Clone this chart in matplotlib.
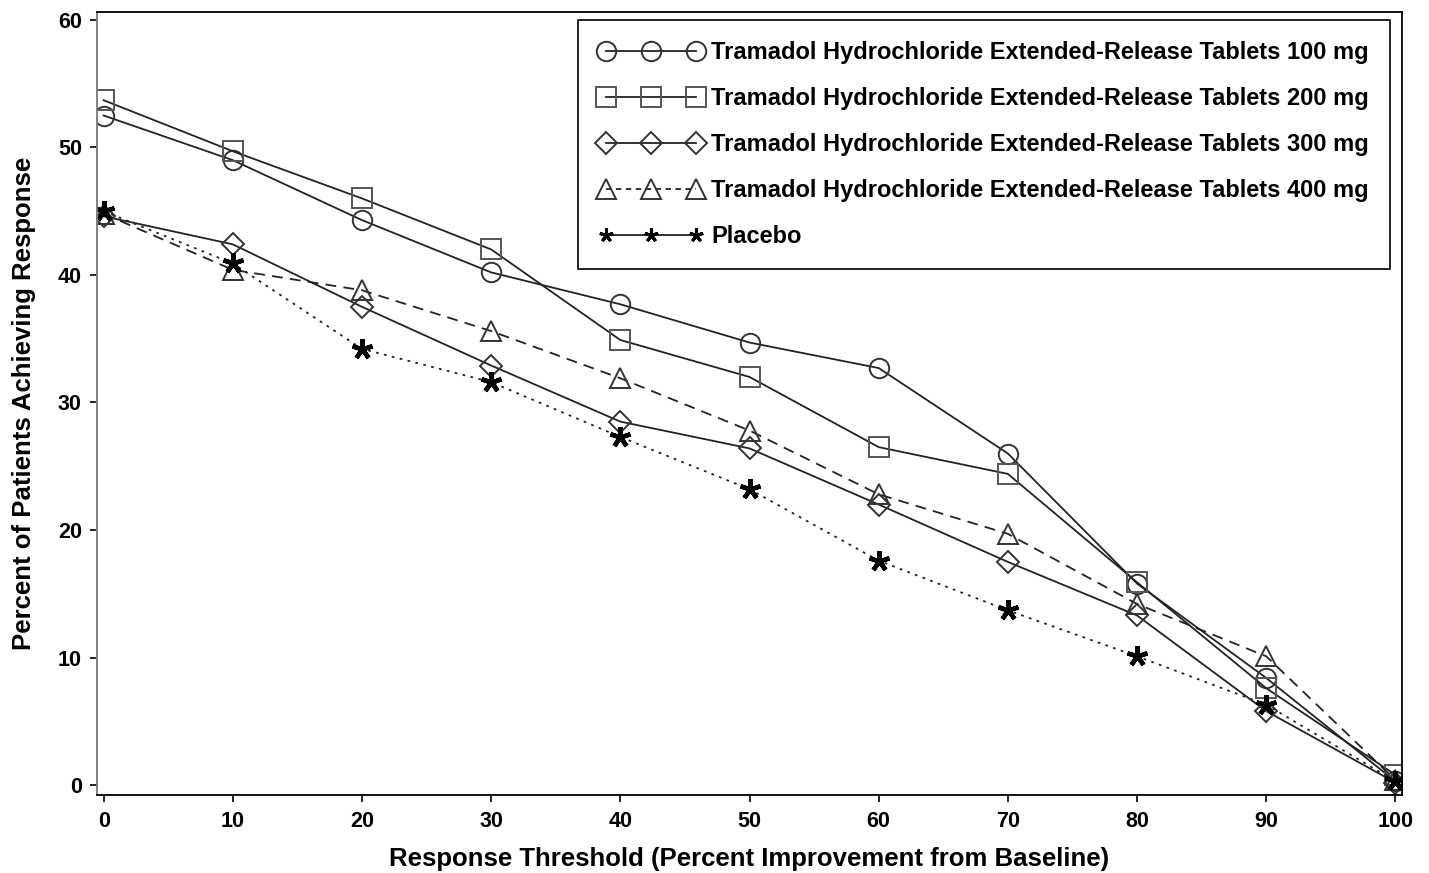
import matplotlib
matplotlib.use('Agg')
import matplotlib.pyplot as plt
from matplotlib.lines import Line2D

plt.rcParams['font.family'] = ['Liberation Sans', 'DejaVu Sans']
plt.rcParams['font.weight'] = 'bold'

thresholds = [0, 10, 20, 30, 40, 50, 60, 70, 80, 90, 100]
mg100 = [52.5, 49.0, 44.3, 40.2, 37.7, 34.7, 32.7, 26.0, 15.8, 8.4, 0.3]
mg200 = [53.7, 49.7, 46.0, 42.0, 34.9, 32.0, 26.5, 24.4, 15.9, 7.6, 0.8]
mg300 = [44.6, 42.4, 37.5, 32.9, 28.5, 26.4, 22.0, 17.5, 13.3, 5.8, 0.2]
mg400 = [44.8, 40.4, 38.8, 35.6, 31.9, 27.8, 22.8, 19.7, 14.2, 10.1, 0.4]
placebo = [45.0, 40.9, 34.2, 31.6, 27.3, 23.2, 17.6, 13.7, 10.1, 6.3, 0.3]

labels = ['Tramadol Hydrochloride Extended-Release Tablets 100 mg',
          'Tramadol Hydrochloride Extended-Release Tablets 200 mg',
          'Tramadol Hydrochloride Extended-Release Tablets 300 mg',
          'Tramadol Hydrochloride Extended-Release Tablets 400 mg',
          'Placebo']

# style of each series: (marker, marker size, edge colour, line style)
STAR = (5, 2, 0)
styles = [('o', 14, '#333333', '-'),
          ('s', 14, '#555555', '-'),
          ('D', 11, '#333333', '-'),
          ('^', 14, '#333333', (0, (6, 4))),
          (STAR, 15, 'black', (0, (1.5, 3)))]
series = [mg100, mg200, mg300, mg400, placebo]

fig = plt.figure(figsize=(14.29, 8.73), dpi=100)
ax = fig.add_axes([0.068, 0.089, 0.913, 0.897])

handles = []
for vals, (m, ms, ec, ls) in zip(series, styles):
    mew = 3.2 if m == STAR else 1.4
    ax.plot(thresholds, vals, color='#222222', lw=1.3, ls=ls, marker=m, markersize=ms,
            markerfacecolor='none', markeredgecolor=ec, markeredgewidth=mew)
    # legend of placebo shows a solid line in the original
    hls = '-' if m == STAR else ((0, (3, 2.5)) if ls != '-' else '-')
    hms = 10 if m == STAR else ms
    hmew = 2.2 if m == STAR else 1.4
    handles.append(Line2D([], [], color='#222222', lw=1.3, ls=hls, marker=m, markersize=hms,
                          markerfacecolor='none', markeredgecolor=ec, markeredgewidth=hmew))

leg = ax.legend(handles, labels, loc='upper right', numpoints=3, fontsize=17, handlelength=4.4,
                handletextpad=0.35, labelspacing=0.97, borderpad=0.9, borderaxespad=0,
                fancybox=False, edgecolor='black', framealpha=1,
                bbox_to_anchor=(0.991, 0.99))
leg.get_frame().set_linewidth(1.2)
for t in leg.get_texts():
    t.set_fontweight('bold')

ax.set_xlim(-0.5, 100.5)
ax.set_ylim(-0.8, 60.6)
ax.set_xticks(thresholds)
ax.set_yticks(range(0, 61, 10))
ax.tick_params(labelsize=15.5, length=5, width=1.2, direction='out', pad=6)
for t in ax.get_xticklabels() + ax.get_yticklabels():
    t.set_fontweight('bold')
for s in ax.spines.values():
    s.set_linewidth(1.3)
ax.spines['left'].set_color('#777777')

ax.set_xlabel('Response Threshold (Percent Improvement from Baseline)', fontsize=18.5, fontweight='bold', labelpad=11)
ax.set_ylabel('Percent of Patients Achieving Response', fontsize=18.5, fontweight='bold', labelpad=16)

fig.savefig('out.png', dpi=100)
